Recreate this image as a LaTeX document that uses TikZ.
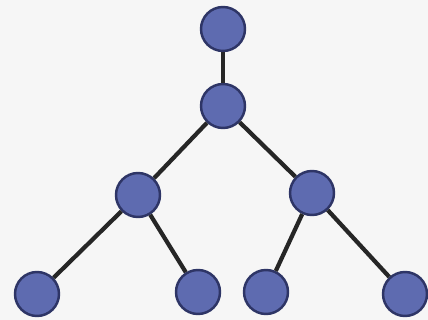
\documentclass[tikz,border=0pt]{standalone}
\usepackage{tikz}
\usetikzlibrary{positioning}
\definecolor{nodeblue}{HTML}{5E6BB0}
\definecolor{nodeedge}{HTML}{2E3566}
\definecolor{bgback}{HTML}{F6F6F6}
\begin{document}
\begin{tikzpicture}[
  x=0.02cm, y=-0.02cm,
  vertex/.style={circle, draw=nodeedge, line width=1.4pt, fill=nodeblue, minimum size=0.88cm, inner sep=0pt},
  edge/.style={line width=2.4pt, black!85}
]
\fill[bgback] (0,0) rectangle (428,320);
\useasboundingbox (0,0) rectangle (428,320);
\node[vertex] (root) at (223,29) {};
\node[vertex] (mid) at (223,106) {};
\node[vertex] (left) at (138,195) {};
\node[vertex] (right) at (312,193) {};
\node[vertex] (ll) at (37,294) {};
\node[vertex] (lr) at (198,292) {};
\node[vertex] (rl) at (266,292) {};
\node[vertex] (rr) at (405,294) {};
\draw[edge] (root) -- (mid);
\draw[edge] (mid) -- (left);
\draw[edge] (mid) -- (right);
\draw[edge] (left) -- (ll);
\draw[edge] (left) -- (lr);
\draw[edge] (right) -- (rl);
\draw[edge] (right) -- (rr);
\end{tikzpicture}
\end{document}
